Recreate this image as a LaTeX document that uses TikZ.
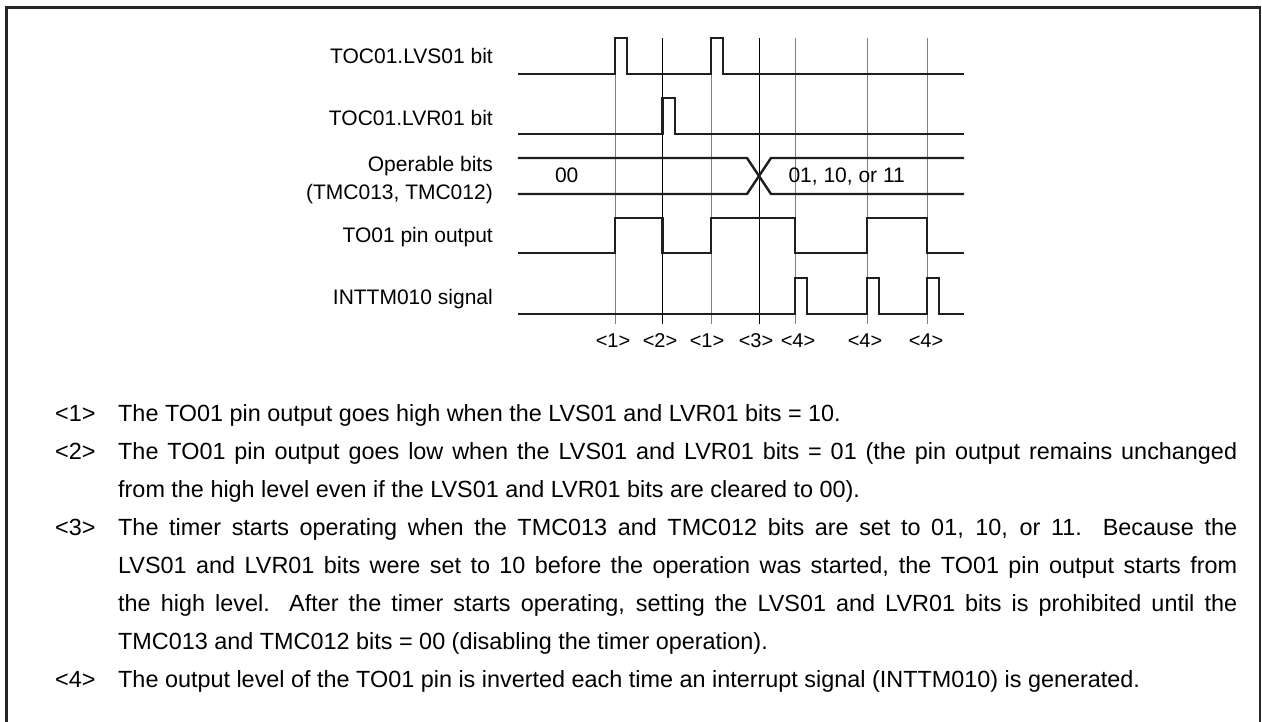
\documentclass[tikz,border=0pt]{standalone}
\usepackage{fontspec}
\setmainfont{Liberation Sans}
\begin{document}
\begin{tikzpicture}[x=1pt,y=-1pt,
  sig/.style={line width=2.4pt, color=black!88, line join=miter, line cap=rect},
  gridg/.style={line width=1pt, color=black!50},
  gridk/.style={line width=0.8pt, color=black},
  lbl/.style={font=\fontsize{21}{25}\selectfont, inner sep=0pt},
  mk/.style={font=\fontsize{20}{24}\selectfont, inner sep=0pt},
  frame/.style={line width=2.5pt, color=black!85}]
\useasboundingbox (0,0) rectangle (1262,721);
% frame
\draw[frame] (6.5,730) -- (6.5,7.5) -- (1260,7.5) -- (1260,730);
% vertical reference lines
\foreach \x in {615,711,795,867,927} \draw[gridg] (\x,38) -- (\x,324);
\foreach \x in {662.5,759} \draw[gridk] (\x,38) -- (\x,324);
% signal labels
\node[lbl, anchor=base east] (lvs) at (493,63.5) {TOC01.LVS01 bit};
\node[lbl, anchor=base east] (lvr) at (493,125.5) {TOC01.LVR01 bit};
\node[lbl, anchor=base east] (opa) at (493,171) {Operable bits};
\node[lbl, anchor=base east] (opb) at (493,199) {(TMC013, TMC012)};
\node[lbl, anchor=base east] (to) at (493,242.5) {TO01 pin output};
\node[lbl, anchor=base east] (intt) at (493,304.5) {INTTM010 signal};
% waveforms
\draw[sig] (519,74) -- (615,74) -- (615,38) -- (627,38) -- (627,74) -- (711,74) -- (711,38) -- (723,38) -- (723,74) -- (963,74);
\draw[sig] (519,134) -- (662.5,134) -- (662.5,98) -- (675,98) -- (675,134) -- (963,134);
\draw[sig] (519,158) -- (747,158) -- (771,194) -- (963,194);
\draw[sig] (519,194) -- (747,194) -- (771,158) -- (963,158);
\draw[sig] (519,253) -- (615,253) -- (615,218) -- (662.5,218) -- (662.5,253) -- (711,253) -- (711,218) -- (795,218) -- (795,253) -- (867,253) -- (867,218) -- (927,218) -- (927,253) -- (963,253);
\draw[sig] (519,314) -- (795,314) -- (795,278) -- (807,278) -- (807,314) -- (867,314) -- (867,278) -- (879,278) -- (879,314) -- (927,314) -- (927,278) -- (939,278) -- (939,314) -- (963,314);
% bus values
\node[lbl, anchor=base] (v00) at (566.7,182.5) {00};
\node[lbl, anchor=base] (v01) at (846.7,182.5) {01, 10, or 11};
% markers
\node[mk, anchor=base] (m1) at (613,347) {<1>};
\node[mk, anchor=base] (m2) at (660,347) {<2>};
\node[mk, anchor=base] (m3) at (707,347) {<1>};
\node[mk, anchor=base] (m4) at (756,347) {<3>};
\node[mk, anchor=base] (m5) at (798,347) {<4>};
\node[mk, anchor=base] (m6) at (865,347) {<4>};
\node[mk, anchor=base] (m7) at (926,347) {<4>};
% notes
\node[anchor=base west, inner sep=0pt, text width=1182pt, align=justify,
      font=\fontsize{23.4}{38}\selectfont] (notes) at (55,421.4) {%
\hangindent=63pt\hangafter=1\noindent\makebox[63pt][l]{<1>}The TO01 pin output goes high when the LVS01 and LVR01 bits = 10.\par
\hangindent=63pt\hangafter=1\noindent\makebox[63pt][l]{<2>}The TO01 pin output goes low when the LVS01 and LVR01 bits = 01 (the pin output remains unchanged\linebreak
from the high level even if the LVS01 and LVR01 bits are cleared to 00).\par
\hangindent=63pt\hangafter=1\noindent\makebox[63pt][l]{<3>}The timer starts operating when the TMC013 and TMC012 bits are set to 01, 10, or 11.  Because the\linebreak
LVS01 and LVR01 bits were set to 10 before the operation was started, the TO01 pin output starts from\linebreak
the high level.  After the timer starts operating, setting the LVS01 and LVR01 bits is prohibited until the\linebreak
TMC013 and TMC012 bits = 00 (disabling the timer operation).\par
\hangindent=63pt\hangafter=1\noindent\makebox[63pt][l]{<4>}The output level of the TO01 pin is inverted each time an interrupt signal (INTTM010) is generated.\par};
\end{tikzpicture}
\end{document}
